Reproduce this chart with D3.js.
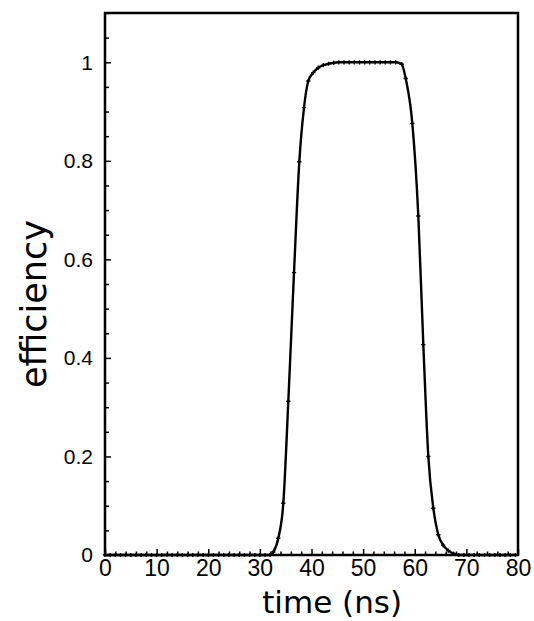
<!DOCTYPE html>
<html>
<head>
<meta charset="utf-8">
<script src="https://cdn.jsdelivr.net/npm/d3@7"></script>
<style>
  body { margin: 0; background: #fff; }
</style>
</head>
<body>
<div id="chart"></div>
<script>
// values
const timeNs = [0, 1, 2, 3, 4, 5, 6, 7, 8, 9, 10, 11, 12, 13, 14, 15, 16, 17, 18, 19, 20,
  21, 22, 23, 24, 25, 26, 27, 28, 29, 30, 31, 32, 32.6,
  33.57, 34.54, 35.51, 36.61, 37.64, 38.55, 39.38, 40.35, 41.32, 42.3, 43.3, 44.3, 45.3,
  46.3, 47.3, 48.3, 49.3, 50.3, 51.3, 52.3, 53.3, 54.3, 55.3, 56.3, 57.47,
  58.25, 59.53, 60.69, 61.66, 62.63, 63.6, 64.57, 65.5, 66.5, 67.5, 68.5,
  69.5, 70.5, 71.5, 72.5, 73.5, 74.5, 75.5, 76.5, 77.5, 78.5, 79.5];
const efficiency = [0, 0, 0, 0, 0, 0, 0, 0, 0, 0, 0, 0, 0, 0, 0, 0, 0, 0, 0, 0, 0,
  0, 0, 0, 0, 0, 0, 0, 0, 0, 0, 0, 0, 0.006,
  0.034, 0.105, 0.312, 0.573, 0.798, 0.908, 0.962, 0.979, 0.989, 0.994, 0.997, 0.999, 1.0,
  1.0, 1.0, 1.0, 1.0, 1.0, 1.0, 1.0, 1.0, 1.0, 1.0, 1.0, 0.996,
  0.967, 0.876, 0.688, 0.427, 0.2, 0.095, 0.041, 0.02, 0.009, 0.003, 0,
  0, 0, 0, 0, 0, 0, 0, 0, 0, 0, 0];
const xTicks = [0, 10, 20, 30, 40, 50, 60, 70, 80];
const yTicks = [0, 0.2, 0.4, 0.6, 0.8, 1];

const W = 534, H = 621;
const margin = { top: 13, right: 16, bottom: 66, left: 105 };
const width = W - margin.left - margin.right,
  height = H - margin.top - margin.bottom;

const svg = d3.select('#chart')
  .append('svg')
  .attr('width', W)
  .attr('height', H);

const g = svg.append('g')
  .attr('transform', `translate(${margin.left}, ${margin.top})`);

const x = d3.scaleLinear().domain([0, 80]).range([0, width]);
const y = d3.scaleLinear().domain([0, 1.1]).range([height, 0]);

// minor ticks (inside)
const xMinor = d3.range(0, 80.01, 2).filter(v => v % 10 !== 0);
const yMinor = d3.range(0, 1.101, 0.05).filter(v => Math.abs(v * 5 - Math.round(v * 5)) > 1e-6);

g.append('g')
  .attr('transform', `translate(0, ${height})`)
  .call(d3.axisBottom(x).tickValues(xMinor).tickSize(-3.5).tickFormat(''))
  .call(a => a.select('.domain').remove())
  .selectAll('line').attr('stroke-width', 1.5);

g.append('g')
  .call(d3.axisLeft(y).tickValues(yMinor).tickSize(-4).tickFormat(''))
  .call(a => a.select('.domain').remove())
  .selectAll('line').attr('stroke-width', 1.5);

// major ticks + labels
const xAxis = g.append('g')
  .attr('transform', `translate(0, ${height})`)
  .call(d3.axisBottom(x).tickValues(xTicks).tickSize(-6).tickPadding(5).tickFormat(d3.format('d')))
  .call(a => a.select('.domain').remove());
xAxis.selectAll('line').attr('stroke-width', 1.5);
xAxis.selectAll('text')
  .attr('font-family', 'Liberation Sans, Arial, sans-serif')
  .attr('font-size', 23)
  .attr('fill', '#000');

const yAxis = g.append('g')
  .call(d3.axisLeft(y).tickValues(yTicks).tickSize(-6).tickPadding(12).tickFormat(d => d === 0 || d === 1 ? d3.format('d')(d) : d3.format('.1f')(d)))
  .call(a => a.select('.domain').remove());
yAxis.selectAll('line').attr('stroke-width', 1.5);
yAxis.selectAll('text')
  .attr('font-family', 'Liberation Sans, Arial, sans-serif')
  .attr('font-size', 21)
  .attr('fill', '#000');

// frame
g.append('rect')
  .attr('x', 0).attr('y', 0)
  .attr('width', width).attr('height', height)
  .attr('fill', 'none')
  .attr('stroke', '#000')
  .attr('stroke-width', 2.5);

// curve
const pts = timeNs.map((t, i) => ({ t: t, e: efficiency[i] }));
g.append('path')
  .datum(pts)
  .attr('fill', 'none')
  .attr('stroke', '#000')
  .attr('stroke-width', 2.4)
  .attr('d', d3.line().x(d => x(d.t)).y(d => y(d.e)).curve(d3.curveMonotoneX));

// markers
g.selectAll('.mark')
  .data(pts)
  .join('path')
  .attr('class', 'mark')
  .attr('transform', d => `translate(${x(d.t)}, ${y(d.e)})`)
  .attr('d', d3.symbol(d3.symbolCross, 10))
  .attr('fill', '#000');

// axis titles
svg.append('text')
  .attr('x', margin.left + x(44))
  .attr('y', 613)
  .attr('text-anchor', 'middle')
  .attr('font-family', 'DejaVu Sans, sans-serif')
  .attr('font-size', 31)
  .text('time (ns)');

svg.append('text')
  .attr('transform', `translate(46, ${304}) rotate(-90)`)
  .attr('text-anchor', 'middle')
  .attr('font-family', 'DejaVu Sans, sans-serif')
  .attr('font-size', 35)
  .text('efficiency');
</script>
</body>
</html>
